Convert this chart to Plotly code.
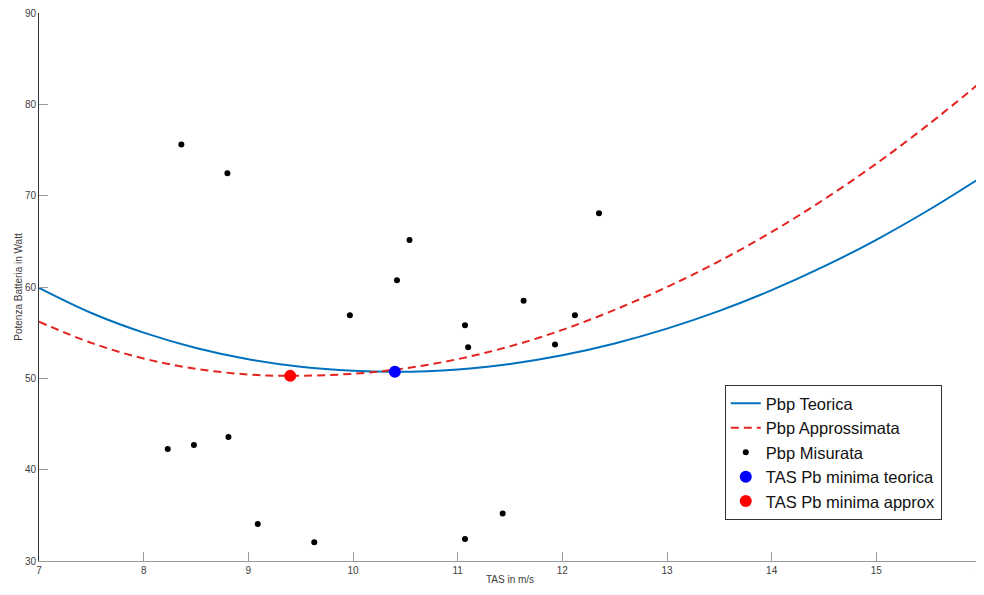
import plotly.graph_objects as go

# Measured points (TAS m/s, Power W)
meas_x = [8.23, 8.36, 8.48, 8.80, 8.81, 9.09, 9.63, 9.97, 10.42, 10.54,
          11.07, 11.10, 11.07, 11.43, 11.63, 11.93, 12.12, 12.35]
meas_y = [42.25, 75.6, 42.7, 72.45, 43.57, 34.05, 32.05, 56.9, 60.74, 65.15,
          55.8, 53.4, 32.4, 35.2, 58.5, 53.7, 56.9, 68.07]

# Theoretical curve
teo_x = [7, 7.5, 8, 8.5, 9, 9.5, 10, 10.4, 11, 11.5, 12, 12.5, 13, 13.5,
         14, 14.5, 15, 15.5, 16]
teo_y = [59.9, 57.15, 55.0, 53.32, 52.09, 51.27, 50.82, 50.71, 50.97, 51.58,
         52.53, 53.82, 55.44, 57.38, 59.65, 62.25, 65.17, 68.43, 72.0]

# Approximated curve
app_x = [7, 7.5, 8, 8.5, 9, 9.4, 10, 10.5, 11, 11.5, 12, 12.5, 13, 13.5,
         14, 14.5, 15, 15.5, 16]
app_y = [56.2, 53.88, 52.17, 51.04, 50.42, 50.27, 50.5, 51.1, 52.1, 53.5,
         55.3, 57.5, 60.0, 62.84, 66.03, 69.59, 73.51, 77.81, 82.45]

min_teo = (10.40, 50.71)
min_app = (9.40, 50.27)

fig = go.Figure()
fig.add_trace(go.Scatter(x=teo_x, y=teo_y, mode="lines", name="Pbp Teorica",
                         line=dict(color="#0072BD", width=2, shape="spline")))
fig.add_trace(go.Scatter(x=app_x, y=app_y, mode="lines", name="Pbp Approssimata",
                         line=dict(color="#e3231f", width=2, dash="8px,5px", shape="spline")))
fig.add_trace(go.Scatter(x=meas_x, y=meas_y, mode="markers", name="Pbp Misurata",
                         marker=dict(color="black", size=6)))
fig.add_trace(go.Scatter(x=[min_teo[0]], y=[min_teo[1]], mode="markers",
                         name="TAS Pb minima teorica",
                         marker=dict(color="#0000ff", size=12)))
fig.add_trace(go.Scatter(x=[min_app[0]], y=[min_app[1]], mode="markers",
                         name="TAS Pb minima approx",
                         marker=dict(color="#ff0000", size=12)))

# page has an 8px body margin: figure sized so the plot area lands where the reference has it
fig.update_layout(
    width=976, height=579,
    margin=dict(l=31, r=3, t=5, b=26, autoexpand=False),
    paper_bgcolor="white", plot_bgcolor="white",
    font=dict(family="Liberation Sans, Arial, sans-serif", color="#404040", size=10),
    showlegend=True,
    legend=dict(x=0.728, y=0.321, xanchor="left", yanchor="top",
                bordercolor="#333333", borderwidth=1, bgcolor="white",
                font=dict(size=16.5, color="#111111"), tracegroupgap=0,
                itemwidth=30),
    xaxis=dict(range=[7, 16], tickvals=list(range(7, 17)), automargin=False,
               ticklabeloverflow="allow",
               showgrid=False, zeroline=False, showline=True,
               linecolor="#9a9a9a", linewidth=1, ticks="inside", ticklen=9,
               tickcolor="#9a9a9a", tickfont=dict(size=10, color="#404040"),
               title=dict(text="TAS in m/s", font=dict(size=10, color="#404040"),
                          standoff=0)),
    yaxis=dict(range=[30, 90], tickvals=list(range(30, 100, 10)), automargin=False,
               ticklabeloverflow="allow",
               showgrid=False, zeroline=False, showline=True,
               linecolor="#333333", linewidth=1, ticks="inside", ticklen=9,
               tickcolor="#9a9a9a", tickfont=dict(size=10, color="#404040"),
               title=dict(text="Potenza Batteria in Watt",
                          font=dict(size=10, color="#404040"), standoff=0)),
)

fig.write_html("out.html")
